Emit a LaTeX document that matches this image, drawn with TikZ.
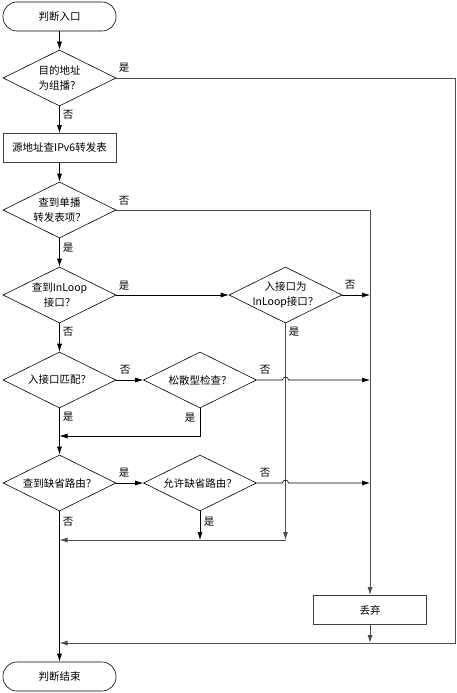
\documentclass[tikz,border=0pt]{standalone}
\usepackage{fontspec}
\setmainfont{Noto Sans CJK SC}
\usetikzlibrary{shapes.geometric,arrows.meta}
\begin{document}
\begin{tikzpicture}[x=1pt,y=-1pt,
  every node/.style={font=\fontsize{10.5}{15.5}\selectfont},
  dia/.style={diamond, draw, aspect=2, minimum width=113pt, minimum height=56pt, inner sep=0pt, line width=0.6pt},
  term/.style={draw, rounded corners=14pt, minimum width=113pt, minimum height=29pt, line width=0.6pt},
  proc/.style={draw, minimum width=113pt, minimum height=29pt, line width=0.8pt, draw=black!75},
  lab/.style={inner sep=0pt},
  ln/.style={line width=0.6pt},
  gl/.style={line width=0.9pt, draw=black!70},
  arr/.style={-{Latex[length=8pt,width=5pt]}},
]
\useasboundingbox (0,0) rectangle (457,693);

% nodes
\node[term] (start) at (59.5,16.5) {判断入口};
\node[dia, label={[name=d1t,align=center]center:目的地址\\为组播？}] (d1) at (59.5,78) {};
\node[proc] (p1) at (59.5,148) {源地址查IPv6转发表};
\node[dia, label={[name=d2t,align=center]center:查到单播\\转发表项？}] (d2) at (59.5,210) {};
\node[dia, label={[name=d3t,align=center]center:查到InLoop\\接口？}] (d3) at (59.5,295) {};
\node[dia, label={[name=d4t,align=center]center:入接口为\\InLoop接口？}] (d4) at (285.5,295) {};
\node[dia, label={[name=d5t]center:入接口匹配？}] (d5) at (59.5,380) {};
\node[dia, label={[name=d6t]center:松散型检查？}] (d6) at (200,380) {};
\node[dia, label={[name=d7t]center:查到缺省路由？}] (d7) at (59.5,483) {};
\node[dia, label={[name=d8t]center:允许缺省路由？}] (d8) at (200,483) {};
\node[proc] (drop) at (370,610) {丢弃};
\node[term] (stop) at (59.5,676.5) {判断结束};

% helper coordinates
\coordinate (c1a) at (455,78);
\coordinate (c1b) at (455,643);
\coordinate (j643) at (59.5,643);
\coordinate (c2a) at (370,210);
\coordinate (j4) at (370,295);
\coordinate (c4a) at (285.5,540);
\coordinate (j540) at (59.5,540);
\coordinate (c6a) at (200,436);
\coordinate (j436) at (59.5,436);
\coordinate (h6) at (282.5,380);
\coordinate (j6) at (370,380);
\coordinate (h8) at (282.5,483);
\coordinate (j8) at (370,483);
\coordinate (c8a) at (200,540);
\coordinate (jd) at (370,643);

% main column
\draw[ln,arr] (start) -- (d1);
\draw[ln,arr] (d1) -- (p1);
\draw[ln,arr] (p1) -- (d2);
\draw[ln,arr] (d2) -- (d3);
\draw[ln,arr] (d3) -- (d5);
\draw[ln,arr] (d5) -- (d7);
\draw[ln,arr] (d7) -- (stop);

% branches
\draw[gl,arr] (d1.east) -- (c1a) -- (c1b) -- (j643);
\draw[gl,arr] (d2.east) -- (c2a) -- (drop.north);
\draw[ln,arr] (d3.east) -- (d4.west);
\draw[ln,arr] (d4.east) -- (j4);
\draw[gl,arr] (d4.south) -- (c4a);
\draw[gl,arr] (c4a) -- (j540);
\draw[ln,arr] (d5.east) -- (d6.west);
\draw[ln,arr] (d6.east) -- (h6) arc[start angle=180,end angle=0,radius=3pt] -- (j6);
\draw[ln,arr] (d6.south) -- (c6a) -- (j436);
\draw[ln,arr] (d7.east) -- (d8.west);
\draw[ln,arr] (d8.east) -- (h8) arc[start angle=180,end angle=0,radius=3pt] -- (j8);
\draw[ln,arr] (d8.south) -- (c8a);
\draw[gl,arr] (drop.south) -- (jd);

% labels
\node[lab] (l1y) at (124,68) {是};
\node[lab] (l1n) at (68,115) {否};
\node[lab] (l2n) at (124,201) {否};
\node[lab] (l2y) at (68,248) {是};
\node[lab] (l3y) at (124,286) {是};
\node[lab] (l3n) at (68,332) {否};
\node[lab] (l4n) at (350,285) {否};
\node[lab] (l4y) at (294,332) {是};
\node[lab] (l5n) at (125,370) {否};
\node[lab] (l5y) at (68,417) {是};
\node[lab] (l6n) at (265,370) {否};
\node[lab] (l6y) at (190,418) {是};
\node[lab] (l7y) at (124,473) {是};
\node[lab] (l7n) at (68,522) {否};
\node[lab] (l8n) at (265,473) {否};
\node[lab] (l8y) at (209,522) {是};
\end{tikzpicture}
\end{document}
